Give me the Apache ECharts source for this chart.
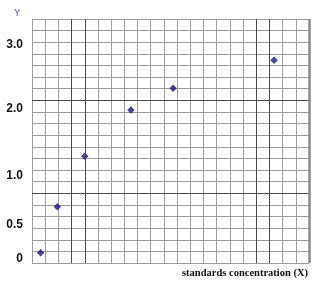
<!DOCTYPE html>
<html>
<head>
<meta charset="utf-8">
<script src="https://cdn.jsdelivr.net/npm/echarts@6/dist/echarts.min.js"></script>
<style>html,body{margin:0;padding:0;background:#fff}#c{width:322px;height:285px}</style>
</head>
<body>
<div id="c"></div>
<script>
// Graph-paper coordinates (grid cells, 21 x 21)
const xPoints = [0.65, 1.92, 4.0, 7.5, 10.7, 18.35];
const yPoints = [0.89, 4.85, 9.18, 13.17, 15.04, 17.45];
// Y tick labels and where they sit on the paper (in grid cells)
const yTickLabels = ['0', '0.5', '1.0', '2.0', '3.0'];
const yTickValues = [0.36, 3.31, 7.53, 13.25, 18.76];
// Heavier ruling lines (grid cells)
const darkX = [3, 4, 17, 18];
const darkY = [6, 14];
const cells = 21;

const chart = echarts.init(document.getElementById('c'), null, {renderer: 'canvas'});
const markData = darkX.map(v => ({xAxis: v})).concat(darkY.map(v => ({yAxis: v})));
chart.setOption({
  animation: false,
  grid: {left: 32, top: 19, width: 277, height: 244, show: false},
  xAxis: {
    type: 'value', min: 0, max: cells, interval: 1,
    name: 'standards concentration (X)',
    nameLocation: 'end', nameGap: -1,
    nameTextStyle: {fontFamily: 'Liberation Serif', fontWeight: 'bold', fontSize: 10.5, color: '#111',
      align: 'right', verticalAlign: 'top', padding: [5, 0, 0, 0]},
    axisLine: {show: false}, axisTick: {show: false}, axisLabel: {show: false},
    splitLine: {show: true, lineStyle: {color: '#9c9c9c', width: 1}}
  },
  yAxis: {
    type: 'value', min: 0, max: cells, interval: 1,
    name: 'Y', nameLocation: 'end', nameGap: 5,
    nameTextStyle: {fontFamily: 'DejaVu Sans', fontSize: 9.5, color: '#5a5aaa',
      align: 'right', verticalAlign: 'bottom', padding: [0, 12, -5, 0]},
    axisLine: {show: false}, axisTick: {show: false},
    axisLabel: {
      customValues: yTickValues, margin: 9,
      fontFamily: 'Liberation Sans', fontWeight: 'bold', fontSize: 12, color: '#111',
      formatter: function (v) {
        for (let i = 0; i < yTickValues.length; i++) {
          if (Math.abs(yTickValues[i] - v) < 1e-6) return yTickLabels[i];
        }
        return '';
      }
    },
    splitLine: {show: true, lineStyle: {color: '#9c9c9c', width: 1}}
  },
  series: [
    {
      type: 'line', data: [], z: 1, silent: true,
      markLine: {
        silent: true, symbol: 'none', label: {show: false}, animation: false,
        lineStyle: {color: '#4a4a4a', width: 1, type: 'solid'},
        data: markData.concat([{xAxis: cells, lineStyle: {color: '#8a8a8a', width: 2.5}}])
      }
    },
    {
      type: 'scatter', z: 3,
      symbol: 'diamond', symbolSize: [7.5, 7.5],
      itemStyle: {color: '#15157e'},
      data: xPoints.map((x, i) => [x, yPoints[i]])
    }
  ]
});
</script>
</body>
</html>
